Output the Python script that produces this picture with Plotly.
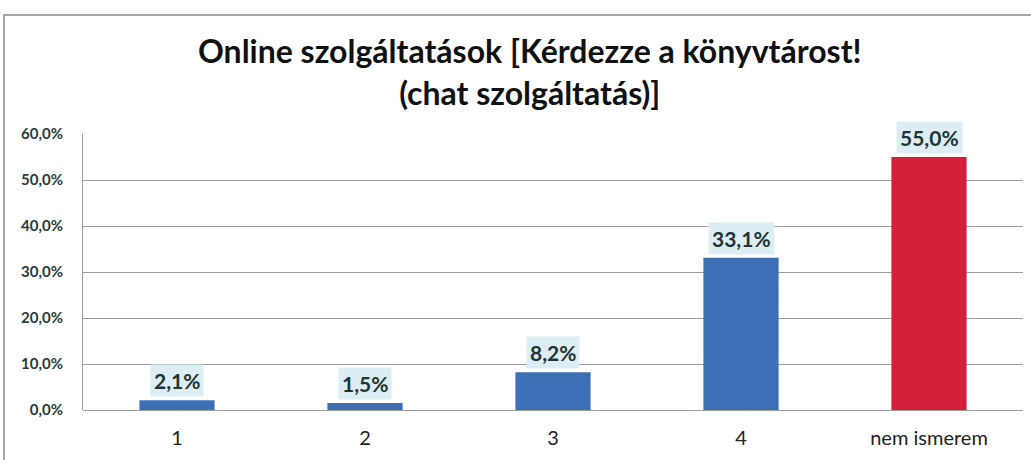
import plotly.graph_objects as go

# Survey answers and their shares (percent)
categories = ["1", "2", "3", "4", "nem ismerem"]
shares = [2.1, 1.5, 8.2, 33.1, 55.0]
bar_colors = ["#3b70b7", "#3b70b7", "#3b70b7", "#3b70b7", "#d2203a"]

y_ticks = [0, 10, 20, 30, 40, 50, 60]
y_tick_labels = ["0,0%", "10,0%", "20,0%", "30,0%", "40,0%", "50,0%", "60,0%"]

title_text = "Online szolgáltatások [Kérdezze a könyvtárost!<br>(chat szolgáltatás)]"

positions = list(range(len(categories)))

PLOT_TOP, PLOT_BOTTOM = 134, 410
PLOT_H = PLOT_BOTTOM - PLOT_TOP


def paper_y(px):
    """Convert a pixel row of the page to paper coordinates."""
    return (PLOT_BOTTOM - px) / PLOT_H


fig = go.Figure()
fig.add_trace(go.Bar(
    x=positions,
    y=shares,
    marker=dict(color=bar_colors, line=dict(width=0)),
    width=0.4,
    hoverinfo="skip",
))

# Value labels on light boxes above each bar
for pos, val in zip(positions, shares):
    fig.add_annotation(
        x=pos, y=val,
        text=f"{val:.1f}%".replace(".", ","),
        showarrow=False,
        yanchor="bottom",
        yshift=3,
        font=dict(family="Lato", size=21, color="#1f3535", weight="bold"),
        bgcolor="#dcedf3",
        borderpad=3,
    )

# Two-line chart title
fig.add_annotation(
    xref="paper", yref="paper",
    x=(530 - 83) / 940, y=paper_y(72),
    xanchor="center", yanchor="middle",
    text=title_text,
    showarrow=False,
    align="center",
    font=dict(family="Lato", size=32, color="#111111", weight="bold"),
)

# Outer frame of the chart
fig.add_shape(type="rect", xref="paper", yref="paper",
              x0=-79 / 940, x1=1.2, y0=-0.3, y1=paper_y(15),
              line=dict(color="#8a8a8a", width=1.5), fillcolor="rgba(0,0,0,0)",
              layer="below")

fig.update_layout(
    width=1031, height=460,
    margin=dict(l=83, r=8, t=PLOT_TOP, b=460 - PLOT_BOTTOM),
    paper_bgcolor="white",
    plot_bgcolor="white",
    showlegend=False,
    xaxis=dict(
        tickvals=positions,
        ticktext=categories,
        range=[-0.5, len(categories) - 0.5],
        showgrid=False,
        showline=False,
        ticks="",
        tickfont=dict(family="Lato", size=20, color="#222222"),
        ticklabelstandoff=14,
    ),
    yaxis=dict(
        range=[0, 60],
        tickvals=y_ticks,
        ticktext=y_tick_labels,
        showgrid=True,
        gridcolor="#9c9c9c",
        gridwidth=1,
        zeroline=True,
        zerolinecolor="#9c9c9c",
        zerolinewidth=1,
        showline=True,
        linecolor="#9c9c9c",
        ticks="",
        tickfont=dict(family="Lato", size=15, color="#2a3a3a", weight="bold"),
        ticklabelstandoff=16,
    ),
)

fig.write_html("out.html")
